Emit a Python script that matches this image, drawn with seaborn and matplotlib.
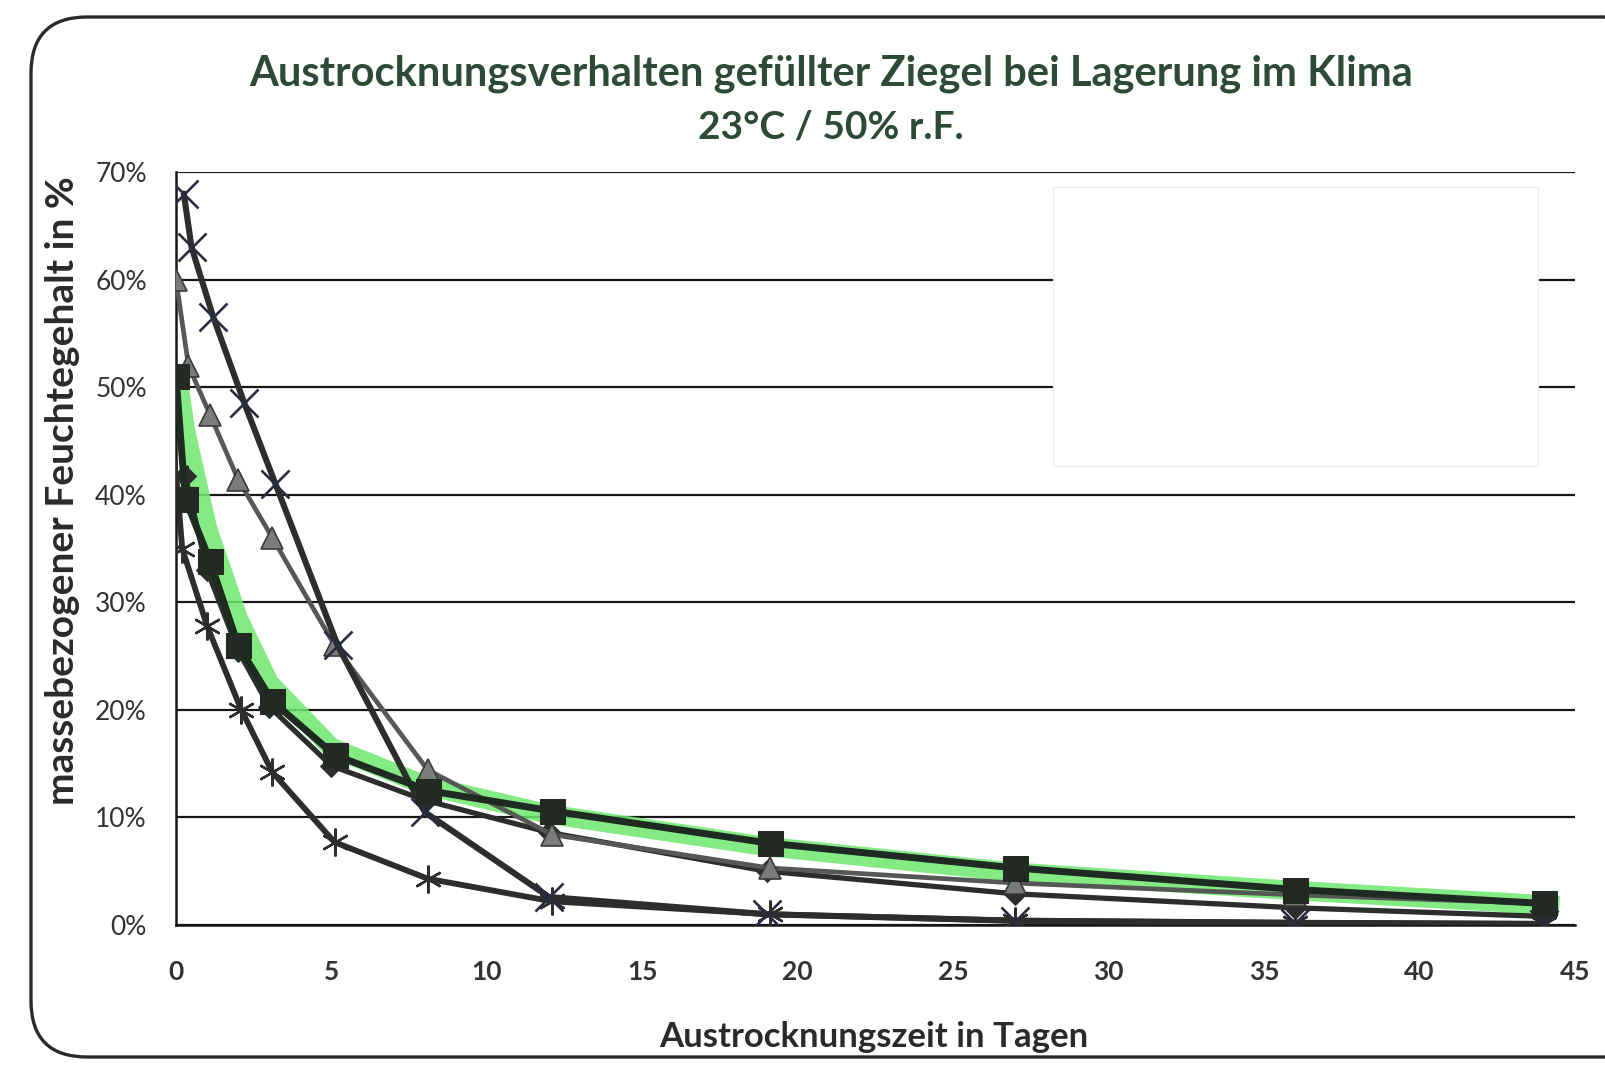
import matplotlib
matplotlib.use("Agg")
import matplotlib.pyplot as plt
import seaborn as sns
import pandas as pd
from matplotlib.patches import FancyBboxPatch, Rectangle

# ---------------- data ----------------
title_line1 = "Austrocknungsverhalten gefüllter Ziegel bei Lagerung im Klima"
title_line2 = "23°C / 50% r.F."
x_label = "Austrocknungszeit in Tagen"
y_label = "massebezogener Feuchtegehalt in %"
x_ticks = [0, 5, 10, 15, 20, 25, 30, 35, 40, 45]
y_ticks = [0, 10, 20, 30, 40, 50, 60, 70]

cross_days = [0.25, 0.5, 1.2, 2.2, 3.2, 5.2, 8.0, 12.0, 19.0, 27.0, 36.0, 44.0]
cross_vals = [68.0, 63.0, 56.5, 48.5, 41.0, 26.0, 10.5, 2.6, 1.0, 0.4, 0.2, 0.1]

tri_days = [0.0, 0.4, 1.1, 2.0, 3.1, 5.1, 8.1, 12.1, 19.1, 27.0, 36.0, 44.0]
tri_vals = [60.0, 52.0, 47.4, 41.4, 36.0, 26.0, 14.4, 8.4, 5.3, 3.9, 2.8, 2.0]

sq_days = [0.0, 0.3, 1.1, 2.0, 3.1, 5.1, 8.1, 12.1, 19.1, 27.0, 36.0, 44.0]
sq_vals = [51.0, 39.6, 33.8, 26.0, 20.8, 15.8, 12.5, 10.6, 7.6, 5.3, 3.3, 2.0]

ast_days = [0.0, 0.2, 1.0, 2.1, 3.1, 5.1, 8.1, 12.1, 19.1, 27.0, 36.0, 44.0]
ast_vals = [42.0, 35.0, 27.8, 20.0, 14.2, 7.7, 4.3, 2.2, 1.0, 0.4, 0.2, 0.1]

dia_days = [0.3, 1.0, 2.0, 3.0, 5.0, 8.0, 12.0, 19.0, 27.0, 36.0, 44.0]
dia_vals = [41.7, 33.0, 25.5, 20.3, 14.8, 11.6, 8.6, 5.0, 2.9, 1.6, 0.8]

green_days = [0.0, 0.3, 1.0, 2.0, 3.0, 5.0, 8.0, 12.0, 19.0, 27.0, 36.0, 44.5]
green_vals = [52.0, 46.0, 37.0, 28.5, 22.5, 16.5, 13.0, 10.3, 7.3, 4.9, 3.2, 1.8]

# ---------------- style ----------------
sns.set_theme(style="white")
plt.rcParams["font.family"] = ["Lato", "DejaVu Sans"]

W, H = 1606, 1065
fig = plt.figure(figsize=(W / 100, H / 100), dpi=100)
ax = fig.add_axes([176 / W, 1 - 925 / H, (1575 - 176) / W, (925 - 172) / H])

# outer rounded chart border
border = FancyBboxPatch((31 / W, 8 / H), (1660 - 31) / W, (1058 - 18) / H,
                        boxstyle="round,pad=0,rounding_size=0.035",
                        transform=fig.transFigure, fill=False,
                        edgecolor="#2a2a2a", linewidth=2.4, mutation_aspect=W / H,
                        clip_on=False)
fig.patches.append(border)

ax.set_xlim(0, 45)
ax.set_ylim(0, 70)
ax.set_yticks(y_ticks)
ax.set_xticks(x_ticks)
ax.set_yticklabels([f"{v}%" for v in y_ticks], fontsize=19, color="#333333")
ax.set_xticklabels([str(v) for v in x_ticks], fontsize=19, color="#333333",
                   fontweight="bold")
ax.tick_params(axis="y", length=0, pad=21)
ax.tick_params(axis="x", length=0, pad=25)

for yv in y_ticks:
    ax.axhline(yv, color="#161616", lw=1.6, zorder=1)
for s in ["top", "right"]:
    ax.spines[s].set_visible(False)
ax.spines["left"].set_color("#161616")
ax.spines["left"].set_linewidth(1.8)
ax.spines["bottom"].set_color("#161616")
ax.spines["bottom"].set_linewidth(1.8)

# whited-out box (scan artefact of removed legend)
ax.add_patch(Rectangle((28.2, 42.7), 43.8 - 28.2, 68.6 - 42.7, facecolor="white",
                       edgecolor="#ececec", lw=0.8, zorder=1.5))

# green highlighted band
sns.lineplot(x=green_days, y=green_vals, ax=ax, color="#6ee86e", lw=14,
             alpha=0.85, solid_capstyle="butt", zorder=2, legend=False)

dark = "#2b2e2b"
sns.lineplot(x=dia_days, y=dia_vals, ax=ax, color=dark, lw=3.8, marker="D",
             markersize=11, markerfacecolor=dark, markeredgecolor=dark, zorder=3,
             legend=False)
sns.lineplot(x=ast_days, y=ast_vals, ax=ax, color=dark, lw=4.2, marker=(6, 2, 0),
             markersize=20, markeredgewidth=1.7, markeredgecolor=dark, zorder=3,
             legend=False)
sns.lineplot(x=tri_days, y=tri_vals, ax=ax, color="#555855", lw=3.4, marker="^",
             markersize=16, markerfacecolor="#7a7c7a", markeredgecolor="#3a3a3a",
             markeredgewidth=1.2, zorder=4, legend=False)
sns.lineplot(x=sq_days, y=sq_vals, ax=ax, color="#1f2a22", lw=5.0, marker="s",
             markersize=18, markerfacecolor="#232a24", markeredgecolor="#232a24",
             zorder=5, legend=False)
sns.lineplot(x=cross_days, y=cross_vals, ax=ax, color=dark, lw=4.4, marker="x",
             markersize=20, markeredgewidth=1.9, markeredgecolor="#2a2a40",
             zorder=4, legend=False)

ax.set_xlabel("")
ax.set_ylabel("")

# titles and axis labels
title_color = "#2c4a35"
fig.text(831 / W, 1 - 74 / H, title_line1, ha="center", va="center",
         fontsize=30, fontweight="bold", color=title_color)
fig.text(831 / W, 1 - 127 / H, title_line2, ha="center", va="center",
         fontsize=28, fontweight="bold", color=title_color)
fig.text(874 / W, 1 - 1037 / H, x_label, ha="center", va="center",
         fontsize=25, fontweight="bold", color="#2a2a2a")
fig.text(63 / W, 1 - 491 / H, y_label, ha="center", va="center", rotation=90,
         fontsize=28, fontweight="bold", color="#2a2a2a")

fig.savefig("out.png", dpi=100, facecolor="white")
